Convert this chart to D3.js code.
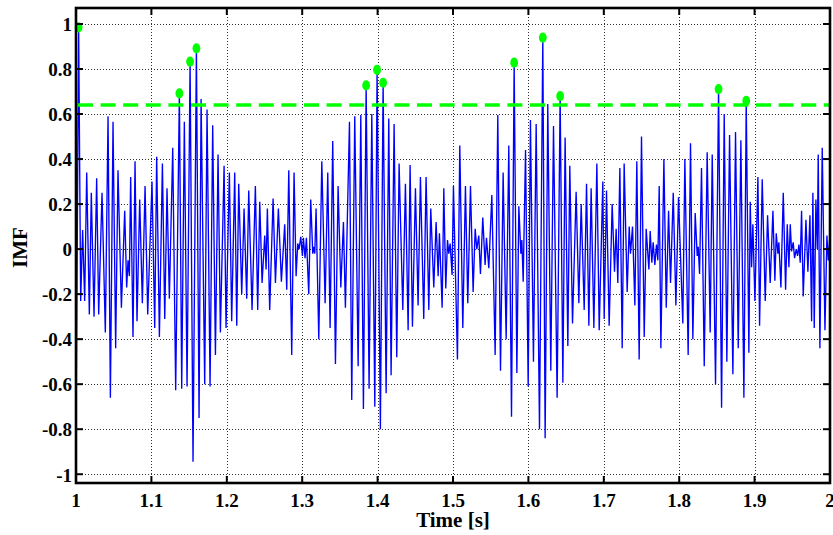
<!DOCTYPE html>
<html>
<head>
<meta charset="utf-8">
<script src="https://cdn.jsdelivr.net/npm/d3@7"></script>
<style>
  body { margin: 0; background: #fff; }
  svg { display: block; }
  text { font-family: "Liberation Serif", "Times New Roman", serif; font-weight: bold; fill: #000; }
</style>
</head>
<body>
<svg id="chart" width="833" height="535"></svg>
<script>
// Axis ticks
const xTicks = [1, 1.1, 1.2, 1.3, 1.4, 1.5, 1.6, 1.7, 1.8, 1.9, 2];
const xTickLabels = ["1", "1.1", "1.2", "1.3", "1.4", "1.5", "1.6", "1.7", "1.8", "1.9", "2"];
const yTicks = [-1, -0.8, -0.6, -0.4, -0.2, 0, 0.2, 0.4, 0.6, 0.8, 1];
const yTickLabels = ["-1", "-0.8", "-0.6", "-0.4", "-0.2", "0", "0.2", "0.4", "0.6", "0.8", "1"];

// Detection threshold
const threshold = 0.64;

// IMF turning points: time in ms after t = 1 s, and amplitude
const timeMs = [
  0, 3.5, 6.2, 8.8, 11.5, 14.2, 17.7, 20.3, 23.9, 27.4, 30.1, 34.5, 38.9, 42.5, 45.6, 49.1, 52.6, 55.7, 60.2, 64.6, 67.2, 69.0, 70.8, 72.5, 75.6, 78.3, 80.9, 84.5, 88.0, 91.6, 95.1,
  100.8, 104.4, 107.0, 110.6, 114.6, 117.7, 120.7, 123.8, 128.3, 132.2, 137.1, 140.2, 143.7, 147.3, 151.3, 155.2, 159.7, 163.2, 165.9, 170.7, 173.8, 177.8, 181.3, 184.9, 188.4, 191.5, 196.4, 199.0,
  203.4, 206.5, 210.5, 213.2, 215.8, 219.8, 222.9, 226.4, 229.1, 233.5, 237.9, 241.0, 243.7, 246.8, 250.3, 252.1, 253.8, 256.9, 261.4, 264.5, 268.4, 272.4, 276.8, 279.5, 282.2, 286.1, 289.2, 291.9, 294.1, 295.9, 298.1,
  300.3, 301.6, 303.8, 305.6, 308.7, 311.3, 314.0, 315.3, 316.7, 318.4, 322.0, 326.0, 330.4, 333.9, 337.0, 340.5, 344.1, 347.6, 351.2, 354.7, 357.3, 362.7, 365.7, 369.7, 374.2, 377.7, 381.2, 384.8, 388.7, 392.3, 396.3,
  399.3, 403.7, 407.3, 411.3, 414.8, 417.9, 421.9, 425.4, 428.5, 433.4, 436.9, 440.5, 443.1, 446.2, 450.2, 453.7, 456.8, 461.2, 464.3, 467.9, 470.5, 474.5, 477.6, 480.3, 482.0, 485.6, 487.8, 490.4, 492.7, 494.4, 496.2, 498.8,
  500.6, 505.9, 509.0, 513.0, 516.5, 519.6, 523.2, 526.7, 529.4, 531.6, 534.2, 536.4, 539.5, 542.6, 544.4, 547.5, 551.5, 555.9, 559.4, 563.0, 566.5, 570.5, 574.0, 577.6, 581.1, 584.7, 587.3, 590.0, 591.3, 593.1, 596.2, 599.7,
  602.7, 606.7, 610.3, 614.7, 619.1, 622.2, 625.7, 629.7, 633.3, 638.1, 642.1, 645.7, 648.7, 652.3, 654.9, 658.5, 663.3, 666.9, 670.0, 674.0, 677.1, 680.2, 683.2, 686.8, 690.8, 693.9, 698.7,
  700.5, 703.6, 707.1, 711.1, 714.2, 716.4, 718.6, 721.3, 724.4, 727.0, 731.0, 733.7, 735.4, 738.1, 741.2, 743.8, 746.9, 750.0, 753.6, 756.2, 759.8, 761.5, 763.7, 765.5, 767.7, 769.9, 771.7, 773.5, 775.7, 779.7, 782.8, 785.9, 788.5, 792.1, 795.6, 799.1,
  804.8, 807.5, 811.9, 815.0, 818.1, 821.2, 823.9, 825.2, 827.0, 829.6, 833.2, 837.1, 841.1, 843.8, 848.2, 852.2, 856.2, 859.7, 863.2, 866.8, 871.2, 874.7, 878.3, 881.8, 885.8, 888.9, 892.4, 894.2, 896.0, 897.7,
  900.4, 904.4, 906.6, 910.1, 914.1, 917.2, 920.7, 924.3, 926.9, 928.7, 930.9, 932.2, 934.9, 938.0, 941.1, 943.3, 945.5, 947.3, 949.0, 951.2, 953.0, 955.2, 957.0, 958.8, 960.5, 962.3, 964.5, 968.1, 970.7, 973.4, 975.6, 977.3, 979.1, 981.3, 983.1, 984.4, 986.6, 989.7, 993.3, 995.9, 997.7, 999.9
];
const imf = [
  -0.82, 0.985, -0.23, 0.085, -0.23, 0.34, -0.29, 0.25, -0.30, 0.315, -0.29, 0.25, -0.37, 0.59, -0.66, 0.566, -0.44, 0.35, -0.26, 0.17, -0.17, -0.05, -0.12, 0.32, -0.39, 0.39, -0.32, 0.22, -0.24, 0.28, -0.29,
  0.30, -0.35, 0.41, -0.39, 0.38, -0.31, 0.27, -0.22, 0.45, -0.627, 0.692, -0.62, 0.566, -0.61, 0.833, -0.945, 0.892, -0.75, 0.667, -0.60, 0.62, -0.61, 0.55, -0.47, 0.42, -0.37, 0.37, -0.35,
  0.34, -0.32, 0.34, -0.34, 0.29, -0.2, 0.18, -0.22, 0.26, -0.27, 0.28, -0.27, 0.21, -0.15, 0.06, -0.09, 0.18, -0.27, 0.225, -0.15, 0.18, -0.145, 0.11, -0.18, 0.35, -0.47, 0.34, -0.12, 0.025, 0, 0.055,
  -0.03, 0.05, -0.04, 0.05, -0.2, 0.22, -0.02, 0.01, -0.02, 0.18, -0.4, 0.39, -0.24, 0.34, -0.35, 0.48, -0.51, 0.28, -0.17, 0.12, -0.26, 0.566, -0.67, 0.59, -0.52, 0.596, -0.71, 0.727, -0.62, 0.6, -0.70,
  0.796, -0.80, 0.739, -0.64, 0.58, -0.56, 0.556, -0.48, 0.38, -0.27, 0.29, -0.36, 0.373, -0.345, 0.27, -0.25, 0.32, -0.31, 0.32, -0.27, 0.18, -0.17, 0.12, -0.12, 0.07, -0.26, 0.27, -0.175, 0.04, -0.02, 0.025, -0.115,
  0.28, -0.49, 0.46, -0.35, 0.28, -0.24, 0.28, -0.19, 0.09, 0, 0.06, -0.11, 0.14, -0.07, 0.05, -0.085, 0.24, -0.47, 0.596, -0.54, 0.34, -0.4, 0.46, -0.745, 0.828, -0.55, 0.19, -0.02, 0.04, -0.145, 0.44, -0.61,
  0.573, -0.5, 0.556, -0.80, 0.939, -0.84, 0.644, -0.54, 0.547, -0.66, 0.68, -0.594, 0.496, -0.43, 0.37, -0.33, 0.255, -0.24, 0.2, -0.27, 0.29, -0.34, 0.27, -0.35, 0.38, -0.36, 0.30,
  -0.31, 0.26, -0.34, 0.2, -0.1, 0.09, -0.15, 0.36, -0.44, 0.38, -0.19, 0.1, -0.02, 0.1, -0.25, 0.39, -0.49, 0.5, -0.39, 0.09, -0.09, 0.08, -0.06, 0.03, -0.07, 0.02, -0.05, 0.28, -0.44, 0.40, -0.26, 0.17, -0.15, 0.25, -0.25, 0.23,
  -0.33, 0.40, -0.47, 0.47, -0.4, 0.16, -0.03, 0.01, -0.11, 0.36, -0.52, 0.43, -0.37, 0.42, -0.6, 0.711, -0.705, 0.6, -0.5, 0.507, -0.556, 0.52, -0.44, 0.484, -0.66, 0.658, -0.46, 0.21, -0.08, 0.11,
  -0.23, 0.32, -0.34, 0.31, -0.23, 0.15, -0.15, 0.17, -0.14, 0.07, -0.02, 0.03, -0.17, 0.25, -0.18, 0.11, -0.08, 0.11, -0.01, 0.03, -0.04, 0.0, -0.03, 0.02, -0.06, 0.17, -0.21, 0.13, -0.1, 0.15, -0.32, 0.25, -0.35, 0.22, 0.0, 0.42, -0.44, 0.45, -0.36, 0.06, -0.05, 0.06
];

// Times (ms after 1 s) of the detected peaks marked in green
const peakTimesMs = [3.5, 137.1, 151.3, 159.7, 384.8, 399.3, 407.3, 581.1, 619.1, 642.1, 852.2, 888.9];

const xLabel = "Time [s]";
const yLabel = "IMF";

// Layout
const plot = { left: 76, right: 830, top: 8, bottom: 483 };
const svg = d3.select("#chart");

const x = d3.scaleLinear().domain([1, 2]).range([plot.left, plot.right]);
const y = d3.scaleLinear().domain([-1.039, 1.071]).range([plot.bottom, plot.top]);

const series = timeMs.map((ms, i) => ({ t: 1 + ms / 1000, v: imf[i] }));

svg.append("rect").attr("width", 833).attr("height", 535).attr("fill", "#fff");

svg.append("defs").append("clipPath").attr("id", "plotClip")
  .append("rect")
  .attr("x", plot.left).attr("y", plot.top)
  .attr("width", plot.right - plot.left).attr("height", plot.bottom - plot.top);

// Dotted grid
const grid = svg.append("g").attr("stroke", "#333").attr("stroke-width", 1)
  .attr("stroke-dasharray", "1,2").attr("fill", "none");
grid.selectAll("line.gx").data(xTicks.slice(1, -1)).join("line")
  .attr("class", "gx")
  .attr("x1", d => Math.round(x(d)) + 0.5).attr("x2", d => Math.round(x(d)) + 0.5)
  .attr("y1", plot.top).attr("y2", plot.bottom);
grid.selectAll("line.gy").data(yTicks).join("line")
  .attr("class", "gy")
  .attr("x1", plot.left).attr("x2", plot.right)
  .attr("y1", d => Math.round(y(d)) + 0.5).attr("y2", d => Math.round(y(d)) + 0.5);

// IMF signal
const line = d3.line().x(d => x(d.t)).y(d => y(d.v));
svg.append("path")
  .datum(series)
  .attr("clip-path", "url(#plotClip)")
  .attr("fill", "none")
  .attr("stroke", "#0000ff")
  .attr("stroke-width", 1.35)
  .attr("stroke-linejoin", "miter")
  .attr("d", line);

// Threshold line
svg.append("line")
  .attr("x1", x(1) + 2).attr("x2", x(2))
  .attr("y1", y(threshold)).attr("y2", y(threshold))
  .attr("stroke", "#00ff00")
  .attr("stroke-width", 3.6)
  .attr("stroke-dasharray", "15,7.6");

// Peak markers, looked up in the signal
const peaks = peakTimesMs.map(ms => series[timeMs.indexOf(ms)]);
svg.append("g").selectAll("ellipse").data(peaks).join("ellipse")
  .attr("cx", d => x(d.t)).attr("cy", d => y(d.v))
  .attr("rx", 3.9).attr("ry", 5.1)
  .attr("fill", "#00ff00");

// Box and inward ticks
const axes = svg.append("g").attr("stroke", "#000").attr("fill", "none");
const tickLen = 7;
xTicks.forEach(d => {
  const px = x(d);
  axes.append("line").attr("x1", px).attr("x2", px).attr("y1", plot.bottom).attr("y2", plot.bottom - tickLen).attr("stroke-width", 2);
  axes.append("line").attr("x1", px).attr("x2", px).attr("y1", plot.top).attr("y2", plot.top + tickLen).attr("stroke-width", 2);
});
yTicks.forEach(d => {
  const py = y(d);
  axes.append("line").attr("x1", plot.left).attr("x2", plot.left + tickLen).attr("y1", py).attr("y2", py).attr("stroke-width", 2);
  axes.append("line").attr("x1", plot.right).attr("x2", plot.right - tickLen).attr("y1", py).attr("y2", py).attr("stroke-width", 2);
});
axes.append("rect")
  .attr("x", plot.left).attr("y", plot.top)
  .attr("width", plot.right - plot.left).attr("height", plot.bottom - plot.top)
  .attr("stroke-width", 2.6);

// Tick labels
const tickFont = 19;
svg.append("g").selectAll("text").data(xTicks).join("text")
  .attr("x", d => x(d)).attr("y", 506.5)
  .attr("text-anchor", "middle")
  .attr("font-size", tickFont)
  .text((d, i) => xTickLabels[i]);
svg.append("g").selectAll("text").data(yTicks).join("text")
  .attr("x", 72).attr("y", d => y(d) + 7.3)
  .attr("text-anchor", "end")
  .attr("font-size", tickFont)
  .text((d, i) => yTickLabels[i]);

// Axis titles
svg.append("text")
  .attr("x", (plot.left + plot.right) / 2).attr("y", 526.7)
  .attr("text-anchor", "middle")
  .attr("font-size", 21)
  .text(xLabel);
svg.append("text")
  .attr("transform", `translate(26.7,${(plot.top + plot.bottom) / 2 + 2}) rotate(-90)`)
  .attr("text-anchor", "middle")
  .attr("font-size", 21)
  .text(yLabel);
</script>
</body>
</html>
